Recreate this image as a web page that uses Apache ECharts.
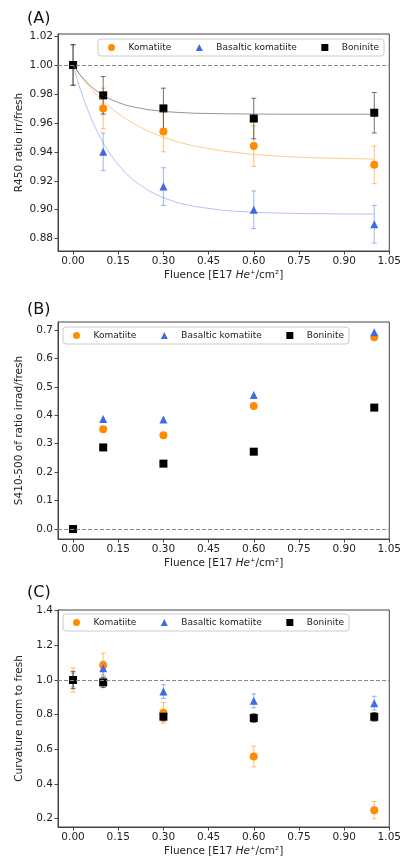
<!DOCTYPE html>
<html><head><meta charset="utf-8">
<script src="https://cdn.jsdelivr.net/npm/echarts@6/dist/echarts.min.js"></script>
<style>html,body{margin:0;padding:0;background:#fff}#c{width:404px;height:859px}</style>
</head><body><div id="c"></div>
<script>
// ---------- data ----------
const fluence = [0, 0.1, 0.3, 0.6, 1.0];
const xTicks = [0, 0.15, 0.30, 0.45, 0.60, 0.75, 0.90, 1.05];
const names = ['Komatiite', 'Basaltic komatiite', 'Boninite'];

// Panel A: R450 ratio irr/fresh
const aKom = [1.000, 0.970, 0.954, 0.944, 0.931];
const aKomErr = [0.014, 0.014, 0.014, 0.014, 0.013];
const aBas = [1.000, 0.940, 0.916, 0.900, 0.890];
const aBasErr = [0.014, 0.013, 0.013, 0.013, 0.013];
const aBon = [1.000, 0.979, 0.970, 0.963, 0.967];
const aBonErr = [0.014, 0.013, 0.014, 0.014, 0.014];
// fitted curves
const fitX = [0, 0.02, 0.04, 0.06, 0.08, 0.1, 0.125, 0.15, 0.175, 0.2, 0.25, 0.3, 0.35, 0.4, 0.5, 0.6, 0.7, 0.8, 0.9, 1.0];
const fitKom = [1.000, 0.9940, 0.9885, 0.9836, 0.9791, 0.9750, 0.9705, 0.9664, 0.9628, 0.9596, 0.9542, 0.9500, 0.9467, 0.9441, 0.9405, 0.9382, 0.9368, 0.9359, 0.9354, 0.9350];
const fitBas = [1.000, 0.9858, 0.9736, 0.9630, 0.9540, 0.9461, 0.9379, 0.9310, 0.9252, 0.9205, 0.9132, 0.9082, 0.9047, 0.9024, 0.8995, 0.8982, 0.8976, 0.8973, 0.8971, 0.8970];
const fitBon = [1.000, 0.9941, 0.9892, 0.9851, 0.9818, 0.9790, 0.9762, 0.9741, 0.9723, 0.9710, 0.9691, 0.9679, 0.9672, 0.9667, 0.9663, 0.9661, 0.9660, 0.9660, 0.9660, 0.9660];
const aTicks = [0.88, 0.90, 0.92, 0.94, 0.96, 0.98, 1.00, 1.02];

// Panel B: S410-500 of ratio irrad/fresh
const bKom = [0.000, 0.351, 0.330, 0.433, 0.674];
const bBas = [0.000, 0.387, 0.385, 0.471, 0.692];
const bBon = [0.000, 0.287, 0.230, 0.272, 0.427];
const bTicks = [0.0, 0.1, 0.2, 0.3, 0.4, 0.5, 0.6, 0.7];

// Panel C: Curvature norm to fresh
const cKom = [1.000, 1.085, 0.810, 0.558, 0.248];
const cKomErr = [0.070, 0.070, 0.060, 0.060, 0.050];
const cBas = [1.000, 1.068, 0.933, 0.880, 0.866];
const cBasErr = [0.040, 0.040, 0.040, 0.040, 0.040];
const cBon = [1.000, 0.986, 0.788, 0.780, 0.787];
const cBonErr = [0.050, 0.030, 0.025, 0.025, 0.025];
const cTicks = [0.2, 0.4, 0.6, 0.8, 1.0, 1.2, 1.4];

// ---------- style ----------
const FONT = 'DejaVu Sans';
const ORANGE = '#ff8c00', BLUE = '#4169e1', BLACK = '#000000';
const gridTops = [34, 322, 610];
const GH = 217;

function xAxis(gi) {
  return {
    type: 'value', gridIndex: gi, min: -0.05, max: 1.05,
    axisLine: { show: true, onZero: false, lineStyle: { color: '#444', width: 1 } },
    axisTick: { show: true, customValues: xTicks, length: 3.5, lineStyle: { color: '#444' } },
    axisLabel: { customValues: xTicks, formatter: v => v.toFixed(2), fontSize: 10.5, color: '#222', margin: 5, fontFamily: FONT },
    splitLine: { show: false },
    name: 'Fluence [E17 {i|He}⁺/cm²]', nameLocation: 'middle', nameGap: 19, nameMoveOverlap: false,
    nameTextStyle: { fontSize: 10.5, color: '#222', fontFamily: FONT,
      rich: { i: { fontStyle: 'italic', fontSize: 10.5, color: '#222', fontFamily: FONT } } }
  };
}
function yAxis(gi, min, max, ticks, dec, name) {
  return {
    type: 'value', gridIndex: gi, min, max,
    axisLine: { show: true, onZero: false, lineStyle: { color: '#444', width: 1 } },
    axisTick: { show: true, customValues: ticks, length: 3.5, lineStyle: { color: '#444' } },
    axisLabel: { customValues: ticks, formatter: v => v.toFixed(dec), fontSize: 10.5, color: '#222', margin: 5, fontFamily: FONT },
    splitLine: { show: false },
    name, nameLocation: 'middle', nameGap: 33, nameMoveOverlap: false,
    nameTextStyle: { fontSize: 10.5, color: '#222', fontFamily: FONT }
  };
}
function errSeries(id, ys, es, color, gi) {
  return {
    type: 'custom', name: id, xAxisIndex: gi, yAxisIndex: gi, silent: true,
    data: fluence.map((x, i) => [x, ys[i] - es[i], ys[i] + es[i]]),
    renderItem(params, api) {
      const lo = api.coord([api.value(0), api.value(1)]);
      const hi = api.coord([api.value(0), api.value(2)]);
      const w = 2.5, st = { stroke: color, lineWidth: 1 };
      return { type: 'group', children: [
        { type: 'line', shape: { x1: lo[0], y1: lo[1], x2: hi[0], y2: hi[1] }, style: st },
        { type: 'line', shape: { x1: lo[0] - w, y1: lo[1], x2: lo[0] + w, y2: lo[1] }, style: st },
        { type: 'line', shape: { x1: hi[0] - w, y1: hi[1], x2: hi[0] + w, y2: hi[1] }, style: st }
      ] };
    }
  };
}
function scatter(name, ys, color, symbol, size, gi, refY) {
  const s = {
    type: 'scatter', name, xAxisIndex: gi, yAxisIndex: gi, symbol, symbolSize: size,
    itemStyle: { color, opacity: 1 }, data: fluence.map((x, i) => [x, ys[i]]), silent: true
  };
  if (refY !== undefined) {
    s.markLine = { silent: true, symbol: 'none', label: { show: false },
      lineStyle: { color: '#888', type: [4, 2], width: 1 }, data: [{ yAxis: refY }] };
  }
  return s;
}
function fit(name, ys, color) {
  return { type: 'line', name, xAxisIndex: 0, yAxisIndex: 0, showSymbol: false, symbol: 'none',
    smooth: false, lineStyle: { color, width: 1 }, silent: true,
    data: fitX.map((x, i) => [x, ys[i]]) };
}
function legend(left, top) {
  return {
    data: [{ name: names[0], icon: 'circle' }, { name: names[1], icon: 'triangle' }, { name: names[2], icon: 'rect' }],
    left, top, orient: 'horizontal', itemWidth: 7, itemHeight: 7, itemGap: 24.5,
    padding: [4, 5, 4, 10], borderColor: '#ccc', borderWidth: 1, borderRadius: 3, backgroundColor: '#fff',
    textStyle: { fontSize: 9, color: '#222', fontFamily: FONT, padding: [0, 0, 0, 8.5] }, selectedMode: false
  };
}

const TS = { fontSize: 16, fontWeight: 'normal', color: '#111', fontFamily: FONT };
const option = {
  animation: false,
  backgroundColor: '#fff',
  title: [
    { text: '(A)', left: 27, top: 11, padding: 0, textStyle: TS },
    { text: '(B)', left: 27, top: 302, padding: 0, textStyle: TS },
    { text: '(C)', left: 27, top: 585, padding: 0, textStyle: TS }
  ],
  grid: gridTops.map(t => ({ left: 58, top: t, width: 335, height: GH, show: true, borderColor: '#444', borderWidth: 1, backgroundColor: 'transparent' })),
  xAxis: [xAxis(0), xAxis(1), xAxis(2)],
  yAxis: [
    yAxis(0, 0.8715, 1.0214, aTicks, 2, 'R450 ratio irr/fresh'),
    yAxis(1, -0.035, 0.728, bTicks, 1, 'S410-500 of ratio irrad/fresh'),
    yAxis(2, 0.151, 1.404, cTicks, 1, 'Curvature norm to fresh')
  ],
  legend: [legend(98, 39), legend(63, 327), legend(63, 614)],
  series: [
    // A
    fit('fitKom', fitKom, 'rgba(255,140,0,0.45)'),
    fit('fitBas', fitBas, 'rgba(65,105,225,0.4)'),
    fit('fitBon', fitBon, 'rgba(60,60,60,0.55)'),
    errSeries('aKomErr', aKom, aKomErr, 'rgba(255,140,0,0.55)', 0),
    scatter(names[0], aKom, ORANGE, 'circle', 8, 0, 1.0),
    errSeries('aBasErr', aBas, aBasErr, 'rgba(65,105,225,0.5)', 0),
    scatter(names[1], aBas, BLUE, 'triangle', 8, 0),
    errSeries('aBonErr', aBon, aBonErr, 'rgba(20,20,20,0.6)', 0),
    scatter(names[2], aBon, BLACK, 'rect', 8, 0),
    // B
    scatter(names[0], bKom, ORANGE, 'circle', 8, 1, 0),
    scatter(names[1], bBas, BLUE, 'triangle', 8, 1),
    scatter(names[2], bBon, BLACK, 'rect', 8, 1),
    // C
    errSeries('cKomErr', cKom, cKomErr, 'rgba(255,140,0,0.55)', 2),
    scatter(names[0], cKom, ORANGE, 'circle', 8, 2, 1.0),
    errSeries('cBasErr', cBas, cBasErr, 'rgba(65,105,225,0.5)', 2),
    scatter(names[1], cBas, BLUE, 'triangle', 8, 2),
    errSeries('cBonErr', cBon, cBonErr, 'rgba(20,20,20,0.6)', 2),
    scatter(names[2], cBon, BLACK, 'rect', 8, 2)
  ]
};
const chart = echarts.init(document.getElementById('c'), null, { renderer: 'canvas' });
chart.setOption(option);
</script>
</body></html>
